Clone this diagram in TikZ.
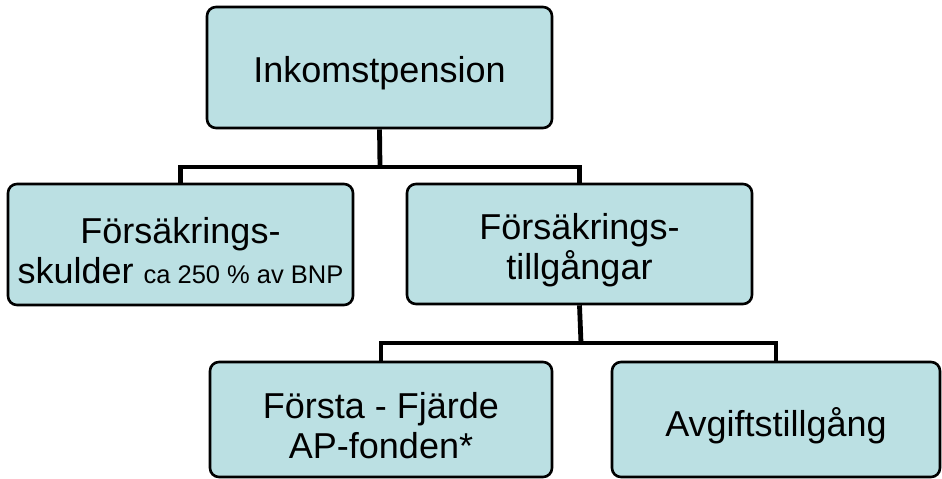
\documentclass[tikz,border=0pt]{standalone}
\usepackage{fontspec}
\setmainfont{Liberation Sans}
\definecolor{boxfill}{RGB}{187,224,227}
\begin{document}
\begin{tikzpicture}[x=1pt,y=-1pt,
  orgbox/.style={draw=black, line width=2.6pt, fill=boxfill, rounded corners=9pt, inner sep=0pt},
  boxtext/.style={inner sep=0pt, align=center, font=\fontsize{36}{40.5}\selectfont, yshift=-6pt},
  conn/.style={draw=black, line width=4.8pt}]
\useasboundingbox (0,0) rectangle (942,479);
\node[orgbox, minimum width=345pt, minimum height=121pt] (top) at (379.5,67.5) {};
\node[boxtext] (topT) at (top.center) {Inkomstpension};
\node[orgbox, minimum width=345pt, minimum height=121pt] (skuld) at (180.5,244.5) {};
\node[boxtext] (skuldT) at (skuld.center)
  {Försäkrings-\\skulder {\fontsize{25.5}{30}\selectfont ca 250 \% av BNP}};
\node[orgbox, minimum width=345pt, minimum height=120pt] (tillg) at (579.5,244) {};
\node[boxtext] (tillgT) at (tillg.center) {Försäkrings-\\tillgångar};
\node[orgbox, minimum width=342pt, minimum height=115pt] (ap) at (381,419.5) {};
\node[boxtext] (apT) at (ap.center) {Första - Fjärde\\AP-fonden*};
\node[orgbox, minimum width=328pt, minimum height=115pt] (avg) at (776,419.5) {};
\node[boxtext] (avgT) at (avg.center) {Avgiftstillgång};
\coordinate (j1) at (380,167);
\coordinate (j2) at (581,343);
\draw[conn] (top.south) -- (j1);
\draw[conn] (skuld.north) |- (j1) -| (tillg.north);
\draw[conn] (tillg.south) -- (j2);
\draw[conn] (ap.north) |- (j2) -| (avg.north);
\end{tikzpicture}
\end{document}
